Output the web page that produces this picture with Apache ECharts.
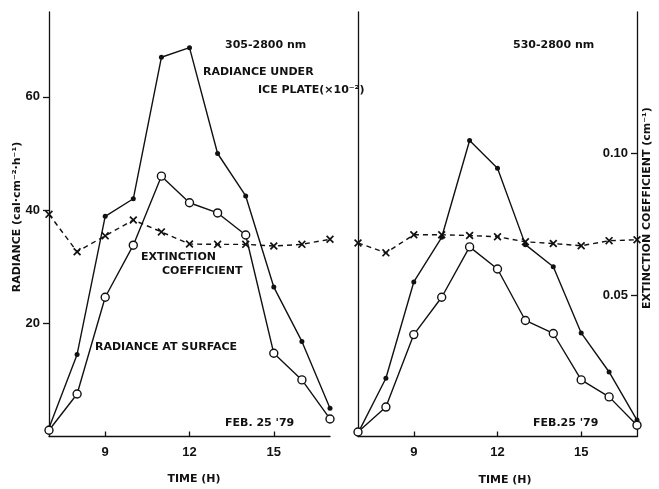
<!DOCTYPE html>
<html>
<head>
<meta charset="utf-8">
<script src="https://cdn.jsdelivr.net/npm/echarts@6/dist/echarts.min.js"></script>
<style>html,body{margin:0;padding:0;background:#fff}#c{width:659px;height:489px}</style>
</head>
<body>
<div id="c"></div>
<script>
const hours = [7, 8, 9, 10, 11, 12, 13, 14, 15, 16, 17];
const xTicks = [9, 12, 15];
const radianceTicks = [20, 40, 60];
const extTicks = [0.05, 0.10];

// Left panel: 305-2800 nm
const underIceLeft = [1.5, 14.5, 38.9, 42.0, 67.0, 68.7, 50.0, 42.5, 26.4, 16.8, 5.0];
const surfaceLeft  = [1.1, 7.5, 24.6, 33.8, 46.0, 41.3, 39.5, 35.6, 14.7, 10.0, 3.1];
const extLeft      = [0.0785, 0.0653, 0.0709, 0.0765, 0.0723, 0.0680, 0.0679, 0.0679, 0.0673, 0.0679, 0.0697];

// Right panel: 530-2800 nm
const underIceRight = [0.6, 10.3, 27.3, 35.2, 52.3, 47.4, 33.9, 30.0, 18.3, 11.4, 2.9];
const surfaceRight  = [0.8, 5.2, 18.0, 24.6, 33.5, 29.6, 20.5, 18.2, 10.0, 7.0, 2.0];
const extRight      = [0.0684, 0.0649, 0.0713, 0.0713, 0.0710, 0.0706, 0.0688, 0.0682, 0.0674, 0.0692, 0.0695];

const pairs = arr => hours.map((h, i) => [h, arr[i]]);
const K = '#111';
const ANN = 'bold 11px "DejaVu Sans"';
const crossPath = 'path://M0,1.5L1.5,0L5,3.5L8.5,0L10,1.5L6.5,5L10,8.5L8.5,10L5,6.5L1.5,10L0,8.5L3.5,5Z';

function xAxis(gi) {
  return {
    type: 'value', gridIndex: gi, min: 7, max: 17,
    axisLine: { show: true, onZero: false, lineStyle: { color: K, width: 1.3 } },
    axisTick: { show: true, inside: true, length: 5, customValues: xTicks, lineStyle: { color: K, width: 1.3 } },
    axisLabel: { show: true, customValues: xTicks, margin: 9, color: K, fontFamily: 'Liberation Sans', fontWeight: 'bold', fontSize: 13 },
    splitLine: { show: false }
  };
}

function lineSeries(data, xi, yi, kind) {
  const s = {
    type: 'line', xAxisIndex: xi, yAxisIndex: yi, data: pairs(data),
    lineStyle: { color: K, width: 1.4, type: kind === 'ext' ? [5, 4] : 'solid' },
    itemStyle: { color: K, borderColor: K, borderWidth: 0 },
    showSymbol: true, animation: false, silent: true, z: 3
  };
  if (kind === 'ice') { s.symbol = 'circle'; s.symbolSize = 5; }
  if (kind === 'surf') { s.symbol = 'circle'; s.symbolSize = 8; s.itemStyle = { color: '#fff', borderColor: K, borderWidth: 1.4 }; s.z = 4; }
  if (kind === 'ext') { s.symbol = crossPath; s.symbolSize = 8; }
  return s;
}

const chart = echarts.init(document.getElementById('c'), null, { renderer: 'canvas' });
chart.setOption({
  backgroundColor: '#fff',
  animation: false,
  grid: [
    { left: 49, top: 12, width: 281, height: 424.5 },
    { left: 358, top: 12, width: 279, height: 424.5 }
  ],
  xAxis: [xAxis(0), xAxis(1)],
  yAxis: [
    {
      type: 'value', gridIndex: 0, min: 0, max: 75, position: 'left',
      axisLine: { show: true, lineStyle: { color: K, width: 1.3 } },
      axisTick: { show: true, length: 6, customValues: radianceTicks, lineStyle: { color: K, width: 1.3 } },
      axisLabel: { show: true, customValues: radianceTicks, margin: 9, color: K, fontFamily: 'Liberation Sans', fontWeight: 'bold', fontSize: 13 },
      splitLine: { show: false }
    },
    { type: 'value', gridIndex: 0, min: 0, max: 0.15, show: false, splitLine: { show: false } },
    {
      type: 'value', gridIndex: 1, min: 0, max: 75, position: 'left',
      axisLine: { show: true, lineStyle: { color: K, width: 1.3 } },
      axisTick: { show: false }, axisLabel: { show: false }, splitLine: { show: false }
    },
    {
      type: 'value', gridIndex: 1, min: 0, max: 0.15, position: 'right',
      axisLine: { show: true, lineStyle: { color: K, width: 1.3 } },
      axisTick: { show: true, inside: true, length: 6, customValues: extTicks, lineStyle: { color: K, width: 1.3 } },
      axisLabel: { show: true, inside: true, customValues: extTicks, margin: 9, color: K, fontFamily: 'Liberation Sans', fontWeight: 'bold', fontSize: 13, formatter: v => v.toFixed(2) },
      splitLine: { show: false }
    }
  ],
  series: [
    lineSeries(underIceLeft, 0, 0, 'ice'),
    lineSeries(surfaceLeft, 0, 0, 'surf'),
    lineSeries(extLeft, 0, 1, 'ext'),
    lineSeries(underIceRight, 1, 2, 'ice'),
    lineSeries(surfaceRight, 1, 2, 'surf'),
    lineSeries(extRight, 1, 3, 'ext')
  ],
  graphic: [
    { type: 'text', x: 225, y: 45, style: { text: '305-2800 nm', font: ANN, fill: K, textVerticalAlign: 'middle' } },
    { type: 'text', x: 203, y: 72, style: { text: 'RADIANCE UNDER', font: ANN, fill: K, textVerticalAlign: 'middle' } },
    { type: 'text', x: 258, y: 90, style: { text: 'ICE PLATE(×10⁻²)', font: ANN, fill: K, textVerticalAlign: 'middle' } },
    { type: 'text', x: 141, y: 257, style: { text: 'EXTINCTION', font: ANN, fill: K, textVerticalAlign: 'middle' } },
    { type: 'text', x: 162, y: 271, style: { text: 'COEFFICIENT', font: ANN, fill: K, textVerticalAlign: 'middle' } },
    { type: 'text', x: 95, y: 347, style: { text: 'RADIANCE AT SURFACE', font: ANN, fill: K, textVerticalAlign: 'middle' } },
    { type: 'text', x: 225, y: 423, style: { text: "FEB. 25 '79", font: ANN, fill: K, textVerticalAlign: 'middle' } },
    { type: 'text', x: 513, y: 45, style: { text: '530-2800 nm', font: ANN, fill: K, textVerticalAlign: 'middle' } },
    { type: 'text', x: 533, y: 423, style: { text: "FEB.25 '79", font: ANN, fill: K, textVerticalAlign: 'middle' } },
    { type: 'text', x: 194, y: 479, style: { text: 'TIME (H)', font: ANN, fill: K, textAlign: 'center', textVerticalAlign: 'middle' } },
    { type: 'text', x: 505, y: 480, style: { text: 'TIME (H)', font: ANN, fill: K, textAlign: 'center', textVerticalAlign: 'middle' } },
    { type: 'text', x: 17, y: 217, rotation: Math.PI / 2, style: { text: 'RADIANCE (cal·cm⁻²·h⁻¹)', font: ANN, fill: K, textAlign: 'center', textVerticalAlign: 'middle' } },
    { type: 'text', x: 647, y: 208, rotation: Math.PI / 2, style: { text: 'EXTINCTION COEFFICIENT (cm⁻¹)', font: ANN, fill: K, textAlign: 'center', textVerticalAlign: 'middle' } }
  ]
});
</script>
</body>
</html>
